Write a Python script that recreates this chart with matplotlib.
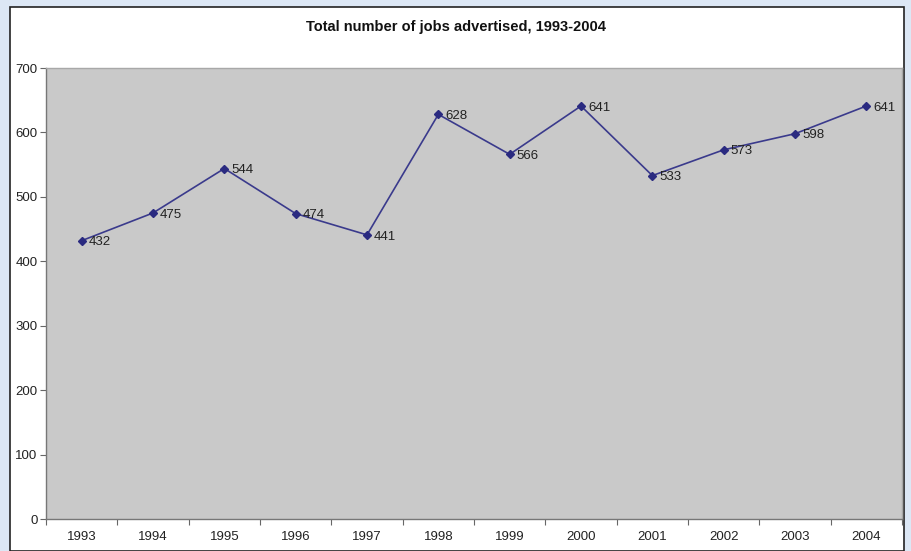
import matplotlib
matplotlib.use("Agg")
import matplotlib.pyplot as plt
from matplotlib.patches import Rectangle

years = ["1993", "1994", "1995", "1996", "1997", "1998", "1999", "2000", "2001", "2002", "2003", "2004"]
jobs = [432, 475, 544, 474, 441, 628, 566, 641, 533, 573, 598, 641]
y_ticks = [0, 100, 200, 300, 400, 500, 600, 700]

plt.rcParams['font.family'] = ['Liberation Sans', 'DejaVu Sans']

W, H = 911, 551
fig = plt.figure(figsize=(W / 100, H / 100), dpi=100)
fig.patch.set_facecolor('#dce7f5')
fig.patches.append(Rectangle((10 / W, 0), (904 - 10) / W, (H - 7) / H, transform=fig.transFigure,
                             facecolor='white', edgecolor='#222222', linewidth=1.2, zorder=-10))

ax = fig.add_axes([46 / W, (H - 519) / H, (902 - 46) / W, (519 - 68) / H])
ax.set_zorder(5)
ax.set_facecolor('#c9c9c9')
x = list(range(len(years)))
ax.plot(x, jobs, color='#3a3a8c', linewidth=1.2, marker='D', markersize=4.5,
        markerfacecolor='#2a2a80', markeredgecolor='#2a2a80', clip_on=False)
for xi, v in zip(x, jobs):
    ax.annotate(str(v), (xi, v), xytext=(5, -1.2), textcoords='offset points',
                fontsize=9.5, color='#222222', va='center', ha='left')

ax.set_xlim(-0.5, len(years) - 0.5)
ax.set_ylim(0, 700)
ax.set_yticks(y_ticks)
ax.set_yticklabels([str(t) for t in y_ticks])
ax.set_xticks([i + 0.5 for i in range(-1, len(years))], minor=False)
ax.set_xticklabels([])
ax.set_xticks(x, minor=True)
ax.set_xticklabels(years, minor=True)
ax.tick_params(axis='x', which='major', length=4, color='#666666', direction='out')
ax.tick_params(axis='x', which='minor', length=0, pad=9, labelsize=9.5, labelcolor='#222222')
ax.tick_params(axis='y', length=4, color='#666666', direction='out', pad=2, labelsize=9.5, labelcolor='#222222')
for s in ['left', 'bottom']:
    ax.spines[s].set_color('#777777')
    ax.spines[s].set_linewidth(1.0)
for s in ['top', 'right']:
    ax.spines[s].set_color('#a8a8a8')
    ax.spines[s].set_linewidth(1.0)

fig.text(456 / W, 1 - 27 / H, "Total number of jobs advertised, 1993-2004", ha='center', va='center',
         fontsize=10.5, fontweight='bold', color='#111111')

fig.savefig("out.png", dpi=100, facecolor=fig.get_facecolor())
